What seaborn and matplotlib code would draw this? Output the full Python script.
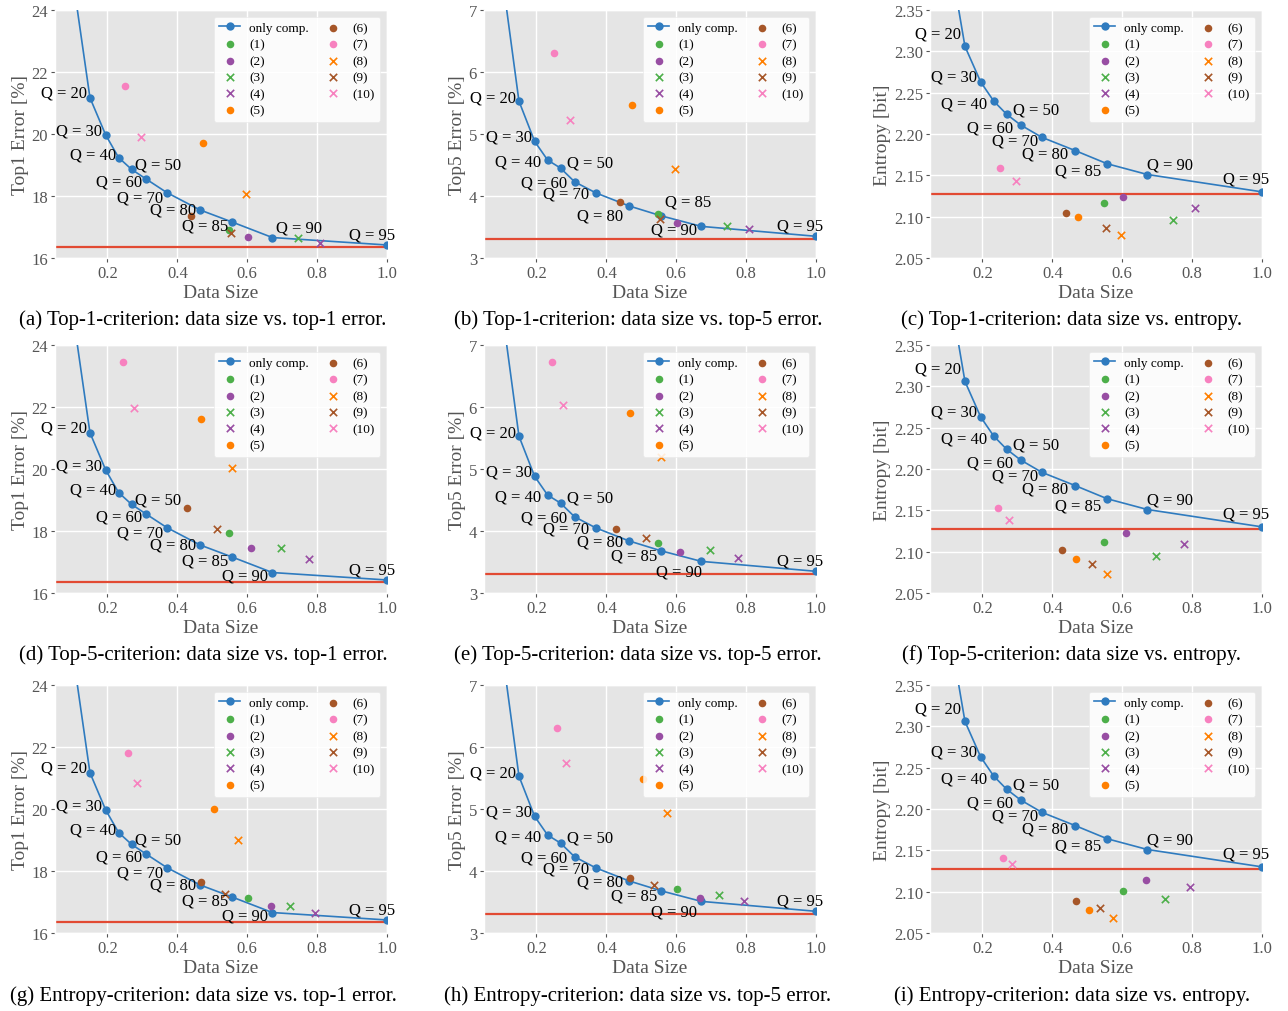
import numpy as np
import pandas as pd
import seaborn as sns
import matplotlib
matplotlib.use("Agg")
import matplotlib.pyplot as plt
from matplotlib.ticker import FormatStrFormatter

# ---------------- data ----------------
q_values = [10, 20, 30, 40, 50, 60, 70, 80, 85, 90, 95]
comp_size = [0.100, 0.150, 0.195, 0.232, 0.269, 0.309, 0.370, 0.465, 0.557, 0.672, 1.000]
comp_top1 = [25.1, 21.17, 19.97, 19.24, 18.86, 18.56, 18.11, 17.55, 17.16, 16.66, 16.42]
comp_top5 = [7.63, 5.53, 4.88, 4.58, 4.45, 4.23, 4.05, 3.84, 3.68, 3.51, 3.35]
comp_entropy = [2.430, 2.306, 2.263, 2.240, 2.224, 2.211, 2.196, 2.180, 2.164, 2.151, 2.130]

baseline_top1 = 16.35
baseline_top5 = 3.30
baseline_entropy = 2.128

method_labels = ["(1)", "(2)", "(3)", "(4)", "(5)", "(6)", "(7)", "(8)", "(9)", "(10)"]

# Top-1 criterion
size_top1crit = [0.548, 0.602, 0.745, 0.809, 0.474, 0.438, 0.251, 0.597, 0.554, 0.296]
top1_top1crit = [16.90, 16.68, 16.63, 16.48, 19.70, 17.35, 21.55, 18.06, 16.82, 19.89]
top5_top1crit = [3.71, 3.57, 3.51, 3.46, 5.46, 3.90, 6.30, 4.43, 3.63, 5.23]
ent_top1crit = [2.116, 2.124, 2.096, 2.110, 2.099, 2.104, 2.159, 2.078, 2.086, 2.143]

# Top-5 criterion
size_top5crit = [0.548, 0.612, 0.696, 0.777, 0.468, 0.427, 0.244, 0.557, 0.514, 0.275]
top1_top5crit = [17.95, 17.45, 17.44, 17.10, 21.60, 18.73, 23.45, 20.03, 18.08, 21.96]
top5_top5crit = [3.81, 3.66, 3.70, 3.56, 5.91, 4.04, 6.73, 5.19, 3.885, 6.03]
ent_top5crit = [2.112, 2.122, 2.095, 2.109, 2.091, 2.102, 2.153, 2.073, 2.085, 2.138]

# Entropy criterion
size_entcrit = [0.603, 0.667, 0.723, 0.794, 0.505, 0.467, 0.260, 0.574, 0.537, 0.285]
top1_entcrit = [17.12, 16.86, 16.86, 16.65, 20.00, 17.63, 21.82, 19.00, 17.27, 20.84]
top5_entcrit = [3.71, 3.57, 3.61, 3.52, 5.49, 3.89, 6.31, 4.93, 3.77, 5.75]
ent_entcrit = [2.101, 2.114, 2.091, 2.106, 2.078, 2.089, 2.141, 2.068, 2.080, 2.133]

y_labels = ["Top1 Error [%]", "Top5 Error [%]", "Entropy [bit]"]
y_ticks = [[16, 18, 20, 22, 24], [3, 4, 5, 6, 7],
           [2.05, 2.10, 2.15, 2.20, 2.25, 2.30, 2.35]]
x_ticks = [0.2, 0.4, 0.6, 0.8, 1.0]
captions = [
    "(a) Top-1-criterion: data size vs. top-1 error.",
    "(b) Top-1-criterion: data size vs. top-5 error.",
    "(c) Top-1-criterion: data size vs. entropy.",
    "(d) Top-5-criterion: data size vs. top-1 error.",
    "(e) Top-5-criterion: data size vs. top-5 error.",
    "(f) Top-5-criterion: data size vs. entropy.",
    "(g) Entropy-criterion: data size vs. top-1 error.",
    "(h) Entropy-criterion: data size vs. top-5 error.",
    "(i) Entropy-criterion: data size vs. entropy.",
]

# ---------------- styles ----------------
method_colors = ["#4daf4a", "#984ea3", "#4daf4a", "#984ea3", "#ff7f00",
                 "#a65628", "#f781bf", "#ff7f00", "#a65628", "#f781bf"]
method_markers = ["o", "o", "x", "x", "o", "o", "o", "x", "x", "x"]
line_color = "#2f7bbf"
base_color = "#e24a33"

# label offsets in pixels (dx, dy) for Q = 20..95, per column
label_offsets = {
    0: {20: (-26, 5), 30: (-27, 4), 40: (-26, 3), 50: (27, 5), 60: (-26, -3),
        70: (-27, -5), 80: (-27, 0), 85: (-27, -3), 90: (27, 10), 95: (-15, 10)},
    1: {20: (-26, 4), 30: (-26, 5), 40: (-30, -1), 50: (30, 6), 60: (-30, -1),
        70: (-30, -1), 80: (-29, -1), 85: (-27, -5), 90: (-22, -10), 95: (-16, 11)},
    2: {20: (-27, 13), 30: (-27, 5), 40: (-30, -3), 50: (30, 5), 60: (-30, -3),
        70: (-27, -3), 80: (-30, -3), 85: (-29, -7), 90: (23, 10), 95: (-16, 13)},
}
row_overrides = {
    (0, 1): {80: (-29, -10), 85: (27, 14), 90: (-27, -3)},
    (1, 0): {90: (-27, -3)},
    (2, 0): {90: (-27, -3)},
    (2, 1): {90: (-27, -10)},
}

plt.style.use("ggplot")
plt.rcParams["font.family"] = ["Liberation Serif", "DejaVu Serif"]
plt.rcParams["mathtext.fontset"] = "stix"

W, H = 1288, 1012
fig = plt.figure(figsize=(W / 100, H / 100), dpi=100)

col_left = [55, 484, 930]
ax_w = 332
row_top = [11, 346, 686]
ax_h = 248
cap_x = [203, 638, 1072]
cap_y = [320, 655, 996]

comp_vals = [comp_top1, comp_top5, comp_entropy]
base_vals = [baseline_top1, baseline_top5, baseline_entropy]
sizes_rows = [size_top1crit, size_top5crit, size_entcrit]
vals_rows = [[top1_top1crit, top5_top1crit, ent_top1crit],
             [top1_top5crit, top5_top5crit, ent_top5crit],
             [top1_entcrit, top5_entcrit, ent_entcrit]]

for r in range(3):
    for c in range(3):
        ax = fig.add_axes([col_left[c] / W, 1 - (row_top[r] + ax_h) / H,
                           ax_w / W, ax_h / H])
        ax.axhline(base_vals[c], color=base_color, lw=1.6, zorder=2)
        sns.lineplot(x=comp_size, y=comp_vals[c], ax=ax, color=line_color,
                     marker="o", markersize=6, markeredgewidth=0,
                     linewidth=1.2, label="only comp.", zorder=3)
        xs = sizes_rows[r]
        ys = vals_rows[r][c]
        for i, lab in enumerate(method_labels):
            if method_markers[i] == "o":
                sns.scatterplot(x=[xs[i]], y=[ys[i]], ax=ax, color=method_colors[i],
                                marker="o", s=30, linewidth=0, label=lab, zorder=4)
            else:
                sns.scatterplot(x=[xs[i]], y=[ys[i]], ax=ax, color=method_colors[i],
                                marker="x", s=28, linewidth=1.2, label=lab, zorder=4)
        # Q labels
        offs = dict(label_offsets[c])
        offs.update(row_overrides.get((r, c), {}))
        for q, xv, yv in zip(q_values, comp_size, comp_vals[c]):
            if q not in offs:
                continue
            dx, dy = offs[q]
            ax.annotate(f"Q = {q}", (xv, yv), xytext=(dx, dy),
                        textcoords="offset pixels", ha="center", va="center",
                        fontsize=12, color="black", zorder=5)
        ax.set_xlim(0.05, 1.0)
        ax.set_ylim(y_ticks[c][0], y_ticks[c][-1])
        ax.set_xticks(x_ticks)
        ax.set_yticks(y_ticks[c])
        if c == 2:
            ax.yaxis.set_major_formatter(FormatStrFormatter("%.2f"))
        ax.tick_params(labelsize=12, colors="#555555", length=3, pad=2)
        ax.set_xlabel("Data Size", fontsize=14, color="#555555", labelpad=2)
        ax.set_ylabel(y_labels[c], fontsize=14, color="#555555", labelpad=2)
        ax.grid(True, color="white", linewidth=1.0)
        handles, labels = ax.get_legend_handles_labels()
        ax.legend(handles, labels, ncol=2, loc="upper right", fontsize=9.5,
                  labelspacing=0.32, handlelength=1.6, handletextpad=0.7,
                  columnspacing=1.0, borderpad=0.4, frameon=True,
                  facecolor="white", edgecolor="#e8e8e8", framealpha=0.85)
        fig.text(cap_x[c] / W, 1 - cap_y[r] / H, captions[r * 3 + c],
                 ha="center", va="center", fontsize=15, color="black")

fig.savefig("out.png", dpi=100)
